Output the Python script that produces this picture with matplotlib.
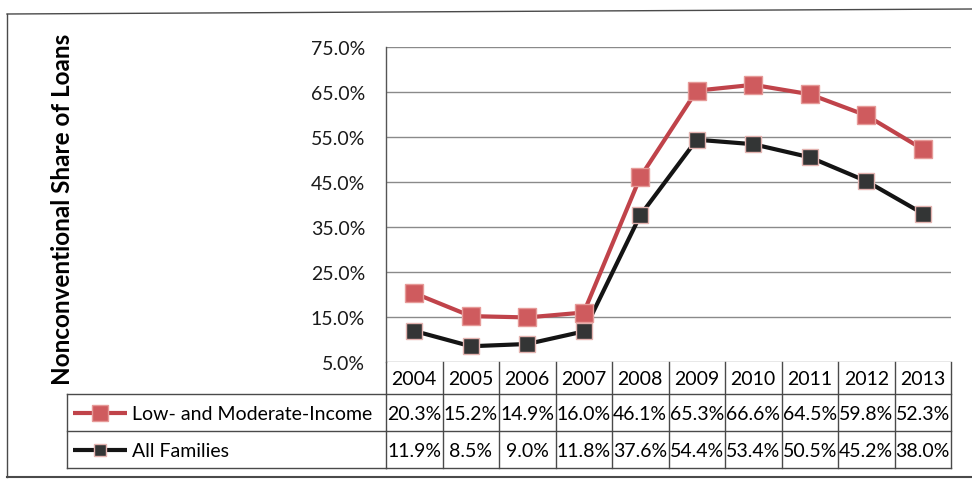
import matplotlib.pyplot as plt
from matplotlib.lines import Line2D
from matplotlib.transforms import blended_transform_factory

plt.rcParams['font.family'] = ['Lato', 'DejaVu Sans']

years = ['2004', '2005', '2006', '2007', '2008', '2009', '2010', '2011', '2012', '2013']
lmi = [20.3, 15.2, 14.9, 16.0, 46.1, 65.3, 66.6, 64.5, 59.8, 52.3]
all_fam = [11.9, 8.5, 9.0, 11.8, 37.6, 54.4, 53.4, 50.5, 45.2, 38.0]
series_names = ['Low- and Moderate-Income', 'All Families']
yticks = [5, 15, 25, 35, 45, 55, 65, 75]

red = '#c0434a'
red_fill = '#cf5b5e'
dark = '#141414'
dark_fill = '#333535'
grid_c = '#8a8a8a'
fs = 14

W, H = 972, 481
fig = plt.figure(figsize=(W / 100, H / 100), dpi=100)

# pixel-space overlay for frame and table
tab = fig.add_axes([0, 0, 1, 1], zorder=0)
tab.set_xlim(0, W)
tab.set_ylim(H, 0)
tab.axis('off')

ax = fig.add_axes([386 / W, 1 - 363 / H, (951 - 386) / W, (363 - 48) / H], zorder=2)
ax.patch.set_alpha(0)
x = list(range(len(years)))

ax.plot(x, all_fam, color=dark, lw=3, marker='s', ms=11, mfc=dark_fill,
        mec='#e3b3b0', mew=1, zorder=3)
ax.plot(x, lmi, color=red, lw=3, marker='s', ms=13, mfc=red_fill,
        mec='#e69a98', mew=1, zorder=4)

ax.set_xlim(-0.5, len(years) - 0.5)
ax.set_ylim(5, 75)
ax.set_yticks(yticks)
ax.set_yticklabels([f'{v:.1f}%' for v in yticks], fontsize=fs, color='#1a1a1a')
ax.tick_params(axis='y', length=0, pad=15)
ax.set_xticks([])
ax.grid(axis='y', color=grid_c, lw=1)
ax.set_axisbelow(True)
for side in ['top', 'right', 'bottom']:
    ax.spines[side].set_visible(False)
ax.spines['left'].set_color('#555555')
ax.spines['left'].set_linewidth(1)

ax.set_ylabel('Nonconventional Share of Loans', fontsize=17.5, fontweight='bold')
ax.yaxis.set_label_coords((74 - 386) / (951 - 386), 0.487)

# outer frame
lc = '#4a4a4a'
tab.add_line(Line2D([7, 7], [15, 478], color=lc, lw=1))
tab.add_line(Line2D([7, W], [15, 10], color=lc, lw=1))
tab.add_line(Line2D([7, W], [478, 478], color=lc, lw=1.5))

# data table under the axis
bt = blended_transform_factory(ax.transData, tab.transData)
y_rows = [363, 395, 432, 469]
left_px = 67
edge_x = [i - 0.5 for i in range(len(years) + 1)]
for xe in edge_x:
    tab.plot([xe, xe], [y_rows[0], y_rows[3]], color=lc, lw=1, transform=bt)
for yr in y_rows[1:]:
    tab.add_line(Line2D([left_px, 386], [yr, yr], color=lc, lw=1))
    tab.plot([-0.5, len(years) - 0.5], [yr, yr], color=lc, lw=1, transform=bt)
tab.add_line(Line2D([left_px, left_px], [y_rows[1], y_rows[3]], color=lc, lw=1))

for i, yv in enumerate(years):
    tab.text(i, (y_rows[0] + y_rows[1]) / 2 + 1, yv, ha='center', va='center',
             fontsize=fs, transform=bt)
for row, vals in enumerate([lmi, all_fam]):
    yc = (y_rows[row + 1] + y_rows[row + 2]) / 2 + 1
    for i, v in enumerate(vals):
        tab.text(i, yc, f'{v:.1f}%', ha='center', va='center', fontsize=fs, transform=bt)

# legend keys in the row labels
keys = [(red, red_fill, '#e69a98', 11), (dark, dark_fill, '#e3b3b0', 8)]
for row, (name, (c, fc, ec, ms)) in enumerate(zip(series_names, keys)):
    yc = (y_rows[row + 1] + y_rows[row + 2]) / 2
    tab.add_line(Line2D([73, 100, 127], [yc, yc, yc], color=c, lw=3, marker='s', ms=ms,
                        mfc=fc, mec=ec, markevery=[1], solid_capstyle='butt'))
    tab.text(132, yc + 1, name, ha='left', va='center', fontsize=fs)

fig.savefig('out.png', dpi=100)
